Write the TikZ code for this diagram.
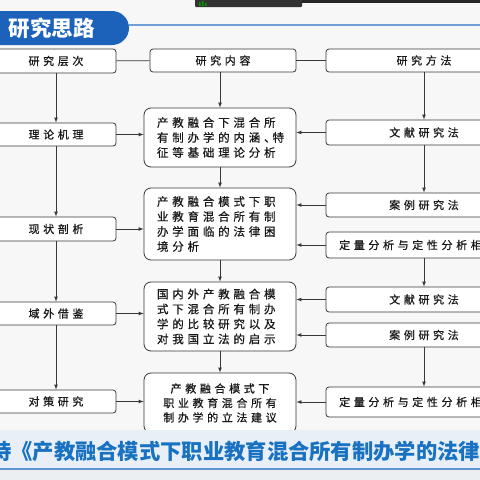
\documentclass[tikz,border=0pt]{standalone}
\usepackage{fontspec}
\newfontfamily\cjk[LetterSpace=33,FakeBold=0.7]{Noto Sans CJK SC}
\newfontfamily\cjkt{Noto Sans CJK SC}
\usetikzlibrary{arrows}

\definecolor{tabblue}{RGB}{28,98,186}
\definecolor{lineblue}{RGB}{110,160,215}
\definecolor{boxline}{RGB}{55,55,55}
\definecolor{txt}{RGB}{25,25,25}
\definecolor{bandbg}{RGB}{232,239,247}
\definecolor{bottombg}{RGB}{236,239,242}

\begin{document}
\begin{tikzpicture}[x=1pt,y=-1pt,
  box/.style={draw=boxline, line width=0.8pt, rounded corners=3pt, fill=white,
    inner sep=0pt, font=\cjk\fontsize{11}{13}\selectfont, text=txt},
  lbox/.style={box, minimum width=120pt},
  rbox/.style={box, minimum width=196pt},
  bigbox/.style={draw=boxline, line width=0.8pt, rounded corners=7pt, fill=white,
    inner xsep=13pt, inner ysep=0pt, text width=126pt, align=left,
    font=\cjk\fontsize{11.5}{15}\selectfont, text=txt},
  arr/.style={-latex, draw=boxline, line width=0.7pt},
  link/.style={draw=boxline, line width=0.7pt}]
\useasboundingbox (0,0) rectangle (480,480);
\clip (0,0) rectangle (480,480);
\fill[white!97!black] (0,0) rectangle (480,480);

% top bar and title tab
\fill[black!85] (195,0) rectangle (480,3);
\fill[black!80, rounded corners=1pt] (195,-3) rectangle (302,7);
\fill[green!60!black] (199,2) rectangle (200.5,6) (202,1) rectangle (203.5,6) (205,3) rectangle (206.5,6);
\fill[tabblue, rounded corners=17pt] (-30,11) rectangle (129,45);
\draw[lineblue, line width=1.2pt] (129,25) -- (480,25);
\node[text=white, font=\cjkt\bfseries\fontsize{21.5}{21}\selectfont] (title) at (52,28) {研究思路};

% left column
\node[lbox, minimum height=24pt] (cc) at (56,61) {研究层次};
\node[lbox, minimum height=23pt] (lj) at (56,134.5) {理论机理};
\node[lbox, minimum height=24pt] (xz) at (56,229) {现状剖析};
\node[lbox, minimum height=23pt] (yw) at (56,313.5) {域外借鉴};
\node[lbox, minimum height=23pt] (dc) at (56,401.5) {对策研究};

% middle column
\node[box, minimum width=146pt, minimum height=23pt] (nr) at (223,60.5) {研究内容};
\node[bigbox, minimum height=59pt] (b1) at (220,137.5)
  {产教融合下混合所\\有制办学的内涵、\kern-3pt 特\\征等基础理论分析};
\node[bigbox, minimum height=72pt] (b2) at (220,224)
  {产教融合模式下职\\业教育混合所有制\\办学面临的法律困\\境分析};
\node[bigbox, minimum height=69pt] (b3) at (220,316.5)
  {国内外产教融合模\\式下混合所有制办\\学的比较研究以及\\对我国立法的启示};
\node[bigbox, minimum height=60pt, align=center, font=\cjk\fontsize{11}{14.5}\selectfont] (b4) at (220,403)
  {产教融合模式下\\职业教育混合所有\\制办学的立法建议};

% right column
\node[rbox, minimum height=23pt] (ff) at (424,60.5) {研究方法};
\node[rbox, minimum height=25pt] (wx1) at (424,132.5) {文献研究法};
\node[rbox, minimum height=24pt] (al1) at (424,205) {案例研究法};
\node[rbox, minimum height=26pt] (dl1) at (424,245) {定量分析与定性分析相\kern27pt};
\node[rbox, minimum height=25pt] (wx2) at (424,299.5) {文献研究法};
\node[rbox, minimum height=24pt] (al2) at (424,335) {案例研究法};
\node[rbox, minimum height=30pt] (dl2) at (424,402) {定量分析与定性分析相\kern27pt};

% connectors
\draw[link] (cc) -- (nr);
\draw[link] (nr) -- (ff);

\draw[arr] (cc) -- (lj);
\draw[arr] (lj) -- (xz);
\draw[arr] (xz) -- (yw);
\draw[arr] (yw) -- (dc);

\draw[arr] (nr.south -| b1.north) -- (b1.north);
\draw[arr] (b1) -- (b2);
\draw[arr] (b2) -- (b3);
\draw[arr] (b3) -- (b4);

\draw[arr] (ff) -- (wx1);
\draw[arr] (wx1) -- (al1);
\draw[arr] (dl1) -- (wx2);
\draw[arr] (al2) -- (dl2);

\draw[arr] (lj.east) -- (lj.east -| b1.west);
\draw[arr] (xz.east) -- (xz.east -| b2.west);
\draw[arr] (yw.east) -- (yw.east -| b3.west);
\draw[arr] (dc.east) -- (dc.east -| b4.west);

\draw[arr] (wx1.west) -- (wx1.west -| b1.east);
\draw[arr] (al1.west) -- (al1.west -| b2.east);
\draw[arr] (dl1.west) -- (dl1.west -| b2.east);
\draw[arr] (wx2.west) -- (wx2.west -| b3.east);
\draw[arr] (al2.west) -- (al2.west -| b3.east);
\draw[arr] (dl2.west) -- (dl2.west -| b4.east);

% bottom title band
\fill[bandbg] (0,430) rectangle (480,468);
\fill[bottombg] (0,470) rectangle (480,480);
\draw[lineblue!80!tabblue, line width=1.3pt] (0,469) -- (480,469);
\node[anchor=west, inner sep=0pt, text=tabblue!90!cyan, font=\cjkt\bfseries\fontsize{21.3}{22}\selectfont] (subtitle) at (-10,451)
  {持《产教融合模式下职业教育混合所有制办学的法律};
\end{tikzpicture}
\end{document}
